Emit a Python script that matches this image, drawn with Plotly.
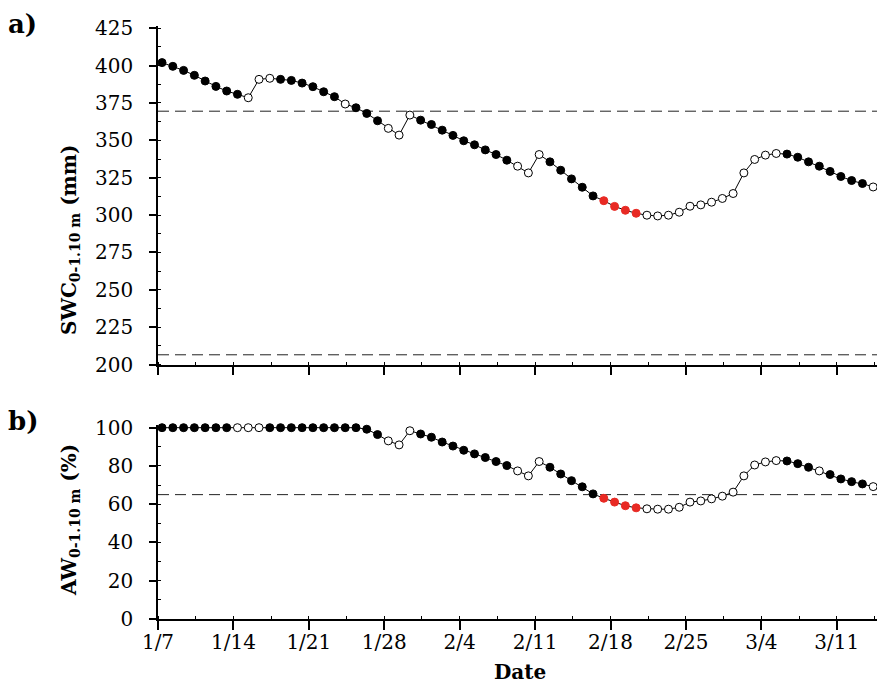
import plotly.graph_objects as go
import pandas as pd

# ---------------- data ----------------
start_date = "2023-01-07 09:00"
n_days = 67
dates = pd.date_range(start_date, periods=n_days, freq="D")

swc = [402.0, 399.5, 396.8, 393.5, 389.7, 386.1, 383.0, 380.8, 378.5, 390.8,
       391.5, 390.8, 390.1, 388.3, 385.9, 382.5, 379.2, 374.3, 371.8, 368.0,
       363.1, 358.0, 353.5, 366.9, 363.5, 360.6, 356.8, 353.3, 349.7, 347.0,
       343.6, 340.5, 336.7, 332.7, 328.2, 340.5, 335.6, 330.0, 324.2, 318.6,
       312.8, 309.6, 305.8, 303.2, 301.2, 299.9, 299.4, 299.9, 301.9, 305.9,
       306.8, 308.6, 311.1, 314.4, 328.2, 337.2, 340.1, 341.2, 340.8, 338.7,
       335.6, 332.7, 329.2, 325.8, 323.1, 321.1, 318.8]

aw = [100, 100, 100, 100, 100, 100, 100, 100, 100, 100,
      100, 100, 100, 100, 100, 100, 100, 100, 100, 99.2,
      96.4, 93.1, 91.0, 98.4, 96.7, 95.0, 92.5, 90.4, 88.2, 86.3,
      84.4, 82.3, 80.2, 77.4, 74.8, 82.3, 79.3, 75.8, 72.3, 69.1,
      65.4, 63.1, 61.1, 59.2, 58.1, 57.6, 57.4, 57.4, 58.4, 61.1,
      61.7, 62.8, 64.2, 66.3, 74.8, 80.5, 82.1, 82.8, 82.6, 81.2,
      79.3, 77.4, 75.5, 73.2, 71.8, 70.6, 69.2]

# marker class per day: f = filled, o = open, r = red
swc_class = ("ffffffff" + "ooo" + "ffffff" + "o" + "fff" + "ooo" + "fffffffff"
             + "ooo" + "fffff" + "rrrr" + "ooooooooooooo" + "ffffffff" + "o")
aw_class = ("fffffff" + "ooo" + "fffffffffff" + "ooo" + "fffffffff"
            + "ooo" + "fffff" + "rrrr" + "ooooooooooooo" + "fff" + "o" + "ffff" + "o")

swc_ref_lines = [369.5, 206.5]
aw_ref_lines = [65]

swc_ticks = [200, 225, 250, 275, 300, 325, 350, 375, 400, 425]
aw_ticks = [0, 20, 40, 60, 80, 100]

# ---------------- style ----------------
FONT = "DejaVu Serif"
RED = "#e82a24"
fill_map = {"f": "black", "o": "white", "r": RED}
line_map = {"f": "black", "o": "black", "r": RED}

W, H = 877, 685
L, R, T, B = 158, 0, 26, 66
PW, PH = W - L - R, H - T - B


def px2paper(px, py):
    return (px - L) / PW, (H - B - py) / PH


fig = go.Figure()

for yref, vals, cls in [("y", swc, swc_class), ("y2", aw, aw_class)]:
    fig.add_trace(go.Scatter(
        x=dates, y=vals, mode="lines+markers",
        xaxis="x" if yref == "y" else "x2", yaxis=yref,
        line=dict(color="black", width=1),
        marker=dict(size=8, color=[fill_map[c] for c in cls],
                    line=dict(color=[line_map[c] for c in cls], width=1)),
        showlegend=False, cliponaxis=False,
    ))

x_range = ["2023-01-07 00:00", "2023-03-14 17:30"]
dash_style = dict(color="#222", width=1, dash="11px,6px")
for v in swc_ref_lines:
    fig.add_shape(type="line", xref="x", yref="y", x0=x_range[0], x1=x_range[1],
                  y0=v, y1=v, line=dash_style, layer="below")
for v in aw_ref_lines:
    fig.add_shape(type="line", xref="x2", yref="y2", x0=x_range[0], x1=x_range[1],
                  y0=v, y1=v, line=dash_style, layer="below")

week = 7 * 24 * 3600 * 1000
xcommon = dict(type="date", range=x_range, tick0="2023-01-07", dtick=week,
               tickformat="%-m/%-d", ticks="outside", ticklen=9, tickwidth=1.5,
               tickcolor="black", showline=True, linecolor="black", linewidth=1.5,
               showgrid=False, zeroline=False, ticklabelstandoff=-5,
               minor=dict(dtick=week / 2, tick0="2023-01-07", ticks="inside", ticklen=3,
                          tickwidth=1, tickcolor="black", showgrid=False),
               tickfont=dict(family=FONT, size=20, color="black"))
ycommon = dict(ticks="outside", ticklen=7, tickwidth=1.5, tickcolor="black",
               showline=True, linecolor="black", linewidth=1.5, showgrid=False,
               zeroline=False, ticklabelstandoff=12,
               tickfont=dict(family=FONT, size=20, color="black"))

top_bottom_px = 364.5
bot_top_px = 425.0
fig.update_layout(
    width=W, height=H,
    margin=dict(l=L, r=R, t=T, b=B),
    paper_bgcolor="white", plot_bgcolor="white",
    xaxis=dict(**xcommon, anchor="y", showticklabels=False, matches="x2"),
    xaxis2=dict(**xcommon, anchor="y2"),
    yaxis=dict(**ycommon, range=[200, 426.5], tickvals=swc_ticks,
               domain=[(H - B - top_bottom_px) / PH, 1],
               minor=dict(dtick=12.5, tick0=200, ticks="inside", ticklen=3, tickwidth=1,
                          tickcolor="black", showgrid=False)),
    yaxis2=dict(**ycommon, range=[0, 101.4], tickvals=aw_ticks,
                domain=[0, (H - B - bot_top_px) / PH],
                minor=dict(dtick=10, tick0=0, ticks="inside", ticklen=3, tickwidth=1,
                           tickcolor="black", showgrid=False)),
)

ann = []
ax, ay = px2paper(70, 240)
ann.append(dict(text="<b>SWC<sub>0-1.10 m</sub> (mm)</b>", x=ax, y=ay, textangle=-90))
ax, ay = px2paper(70, 520)
ann.append(dict(text="<b>AW<sub>0-1.10 m</sub> (%)</b>", x=ax, y=ay, textangle=-90))
ax, ay = px2paper(520, 672)
ann.append(dict(text="<b>Date</b>", x=ax, y=ay))
for a in ann:
    a.update(xref="paper", yref="paper", showarrow=False, xanchor="center", yanchor="middle",
             font=dict(family=FONT, size=20, color="black"))
    fig.add_annotation(**a)

for label, px, py in [("a)", 22, 24), ("b)", 23, 421)]:
    ax, ay = px2paper(px, py)
    fig.add_annotation(text=f"<b>{label}</b>", x=ax, y=ay, xref="paper", yref="paper",
                       showarrow=False, xanchor="center", yanchor="middle",
                       font=dict(family=FONT, size=26, color="black"))

fig.write_html("out.html", config={"displayModeBar": False},
               post_script="document.body.style.margin='0';document.body.style.overflow='hidden';")
